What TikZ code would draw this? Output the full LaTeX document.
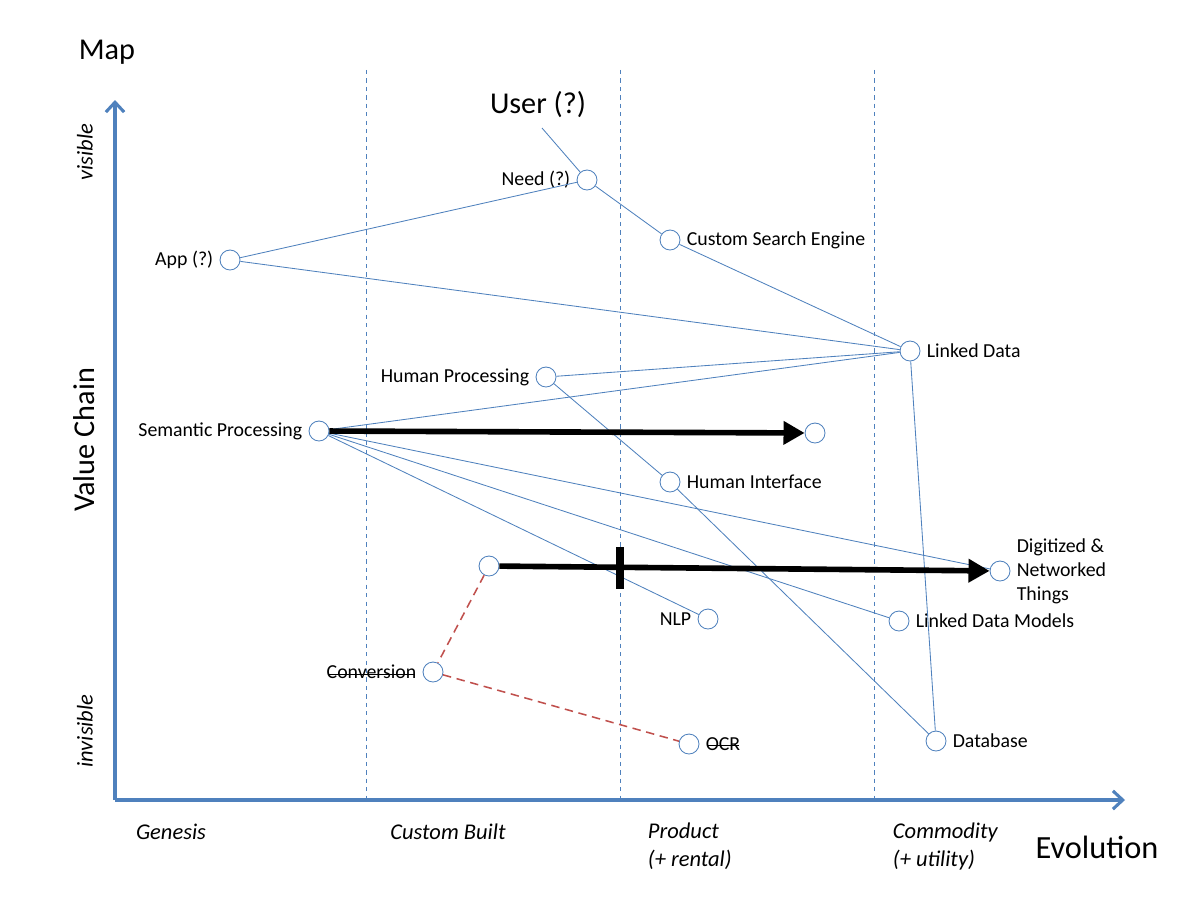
\documentclass[tikz,border=0pt]{standalone}
\usepackage{fontspec}
\setmainfont{Carlito}
\usetikzlibrary{arrows.meta}
\definecolor{mapblue}{RGB}{79,129,189}
\definecolor{mapred}{RGB}{192,80,77}

\begin{document}
\begin{tikzpicture}[x=0.025cm, y=-0.025cm,
    comp/.style={circle, draw=mapblue, fill=white, line width=0.6pt, minimum size=14.2pt, inner sep=0pt},
    link/.style={draw=mapblue, line width=0.6pt},
    lbl/.style={font=\fontsize{14.1}{17}\selectfont},
    stage/.style={font=\fontsize{16}{19.5}\selectfont\itshape, align=left},
    big/.style={font=\fontsize{21.5}{25}\selectfont},
    every label/.style={lbl},
    label distance=1pt]
      \useasboundingbox (0,0) rectangle (1200,900);

      % axes and stages
      \draw[mapblue, line width=0.5pt, dashed] (366,70) -- (366,800);
      \draw[mapblue, line width=0.5pt, dashed] (620,70) -- (620,800);
      \draw[mapblue, line width=0.5pt, dashed] (874,70) -- (874,800);
      \draw[mapblue, line width=2.2pt, -{Straight Barb[length=7pt, width=13pt, line width=2.2pt]}] (115,800) -- (115,100);
      \draw[mapblue, line width=2.2pt, -{Straight Barb[length=7pt, width=13pt, line width=2.2pt]}] (115,800) -- (1125,800);

      \node[big] (map) at (107,52) {Map};
      \node[big, rotate=90] (chain) at (84,440) {Value Chain};
      \node[stage, rotate=90] (visible) at (85,152) {visible};
      \node[stage, rotate=90] (invisible) at (85,731) {invisible};
      \node[stage] (genesis) at (171,832) {Genesis};
      \node[stage] (custom) at (448,832) {Custom Built};
      \node[stage, anchor=north west] (product) at (643,818) {Product\\(+ rental)};
      \node[stage, anchor=north west] (commodity) at (888,818) {Commodity\\(+ utility)};
      \node[font=\fontsize{23}{27}\selectfont] (evolution) at (1097,847) {Evolution};

      % components
      \node[big] (user) at (538,105) {User (?)};
      \coordinate (userend) at (542,128);
      \node[comp, label=left:{Need (?)}] (need) at (587,180) {};
      \node[comp, label=right:{Custom Search Engine}] (search) at (670,240) {};
      \node[comp, label=left:{App (?)}] (app) at (230,260) {};
      \node[comp, label=right:{Linked Data}] (linked) at (910,351) {};
      \node[comp, label=left:{Human Processing}] (human) at (546,377) {};
      \node[comp, label=left:{Semantic Processing}] (semantic) at (319,431) {};
      \node[comp] (semfuture) at (815,433) {};
      \node[comp, label=right:{Human Interface}] (interface) at (670,482) {};
      \node[comp, label={[align=left]right:{Digitized \&\\Networked\\Things}}] (things) at (1000,571) {};
      \node[comp] (thingsnow) at (489,566) {};
      \node[comp, label=left:{NLP}] (nlp) at (708,619) {};
      \node[comp, label=right:{Linked Data Models}] (models) at (899,621) {};
      \node[comp, label={[name=convlbl]left:{Conversion}}] (conversion) at (433,672) {};
      \node[comp, label={[name=ocrlbl]right:{OCR}}] (ocr) at (689,744) {};
      \node[comp, label=right:{Database}] (database) at (936,741) {};

      % struck out
      \draw[line width=0.6pt] ([xshift=4.5pt, yshift=3.3pt]convlbl.base west) -- ([xshift=-4.5pt, yshift=3.3pt]convlbl.base east);
      \draw[line width=0.6pt] ([xshift=4.5pt, yshift=3.3pt]ocrlbl.base west) -- ([xshift=-4.5pt, yshift=3.3pt]ocrlbl.base east);

      \draw[link] (userend) -- (need);
      \draw[link] (need) -- (app);
      \draw[link] (need) -- (search);
      \draw[link] (search) -- (linked);
      \draw[link] (app) -- (linked);
      \draw[link] (human) -- (linked);
      \draw[link] (semantic) -- (linked);
      \draw[link] (linked) -- (database);
      \draw[link] (human) -- (interface);
      \draw[link] (interface) -- (database);
      \draw[link] (semantic) -- (things);
      \draw[link] (semantic) -- (models);
      \draw[link] (semantic) -- (nlp);

      \draw[mapred, line width=1.1pt, dash pattern=on 6pt off 4pt] (thingsnow) -- (conversion);
      \draw[mapred, line width=1.1pt, dash pattern=on 6pt off 4pt] (conversion) -- (ocr);

      % movement
      \draw[line width=4pt, -{Triangle[length=15pt, width=16pt]}] (semantic) -- (semfuture);
      \draw[line width=4pt, -{Triangle[length=15pt, width=16pt]}] (thingsnow) -- (things);
      \node[fill=black, inner sep=0pt, minimum width=5pt, minimum height=30pt] (inertia) at (620,568) {};
\end{tikzpicture}
\end{document}
